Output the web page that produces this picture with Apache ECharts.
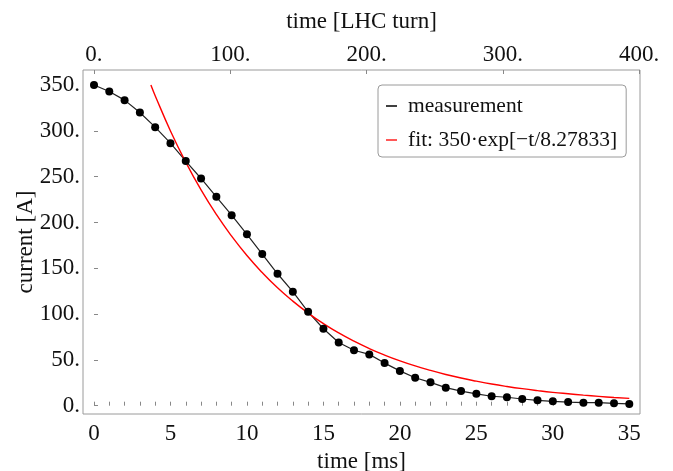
<!DOCTYPE html>
<html>
<head>
<meta charset="utf-8">
<script src="https://cdn.jsdelivr.net/npm/echarts@6/dist/echarts.min.js"></script>
<style>
html,body{margin:0;padding:0;background:#fff;}
#chart{width:673px;height:471px;}
</style>
</head>
<body>
<div id="chart"></div>
<script>
// measurement: time [ms] and current [A]
var timeMs = [0,1,2,3,4,5,6,7,8,9,10,11,12,13,14,15,16,17,18,19,20,21,22,23,24,25,26,27,28,29,30,31,32,33,34,35];
var currentA = [350,343,333.5,320,304,286.5,267,248,228,208,187,165.5,144,124.5,102.5,84,69,60.5,56,46.5,38,30.5,25.5,19.7,16,13,10.3,9.2,7.3,5.9,4.8,4.0,3.3,3.3,2.6,1.9];
// fit curve
var fitTime = [3.72,4,5,6,7,8,9,10,11,12,13,14,15,16,17,18,19,20,21,22,23,24,25,26,27,28,29,30,31,32,33,34,35];
var fitCurrent = [350,338.4,299.9,265.8,235.5,208.7,185.0,163.9,145.3,128.7,114.1,101.1,89.6,79.4,70.4,62.4,55.3,49.0,43.4,38.5,34.1,30.2,26.8,23.7,21.0,18.6,16.5,14.6,13.0,11.5,10.2,9.0,8.0];
// tick labels
var msTicks = [0,1,2,3,4,5,6,7,8,9,10,11,12,13,14,15,16,17,18,19,20,21,22,23,24,25,26,27,28,29,30,31,32,33,34,35];
var msLabels = [0,5,10,15,20,25,30,35];
var turnLabels = [0,100,200,300,400];
var currentLabels = [0,50,100,150,200,250,300,350];

var FONT = 'Liberation Serif';
var TXT = '#111';

function zip(a, b){ return a.map(function(v,i){ return [v, b[i]]; }); }

var chart = echarts.init(document.getElementById('chart'), null, {renderer:'canvas'});
chart.setOption({
  animation: false,
  backgroundColor: '#fff',
  grid: {left: 83, top: 70, width: 557, height: 344, containLabel: false, outerBoundsMode: 'none',
    show: true, borderColor: '#9a9a9a', borderWidth: 1, backgroundColor: 'transparent'},
  legend: {
    left: 378, top: 85, orient: 'vertical',
    data: ['measurement', 'fit: 350·exp[−t/8.27833]'],
    icon: 'rect', itemWidth: 11, itemHeight: 1.5, itemGap: 10,
    padding: [9, 9, 5, 8],
    borderColor: '#9a9a9a', borderWidth: 1, borderRadius: 4,
    textStyle: {fontFamily: FONT, fontSize: 21.5, color: TXT, lineHeight: 24, padding: [0,0,0,6]}
  },
  xAxis: [
    {
      type: 'value', position: 'bottom', min: -0.719, max: 35.70,
      name: 'time [ms]', nameLocation: 'middle', nameGap: 36, nameMoveOverlap: false,
      nameTextStyle: {fontFamily: FONT, fontSize: 23, color: TXT},
      axisLine: {show: false},
      splitLine: {show: false},
      axisTick: {show: true, inside: true, length: 4, lineStyle: {color: '#888'}, customValues: msTicks},
      axisLabel: {fontFamily: FONT, fontSize: 23, color: TXT, margin: 8, customValues: msLabels}
    },
    {
      type: 'value', position: 'top', min: -8.07, max: 400.7,
      name: 'time [LHC turn]', nameLocation: 'middle', nameGap: 37, nameMoveOverlap: false,
      nameTextStyle: {fontFamily: FONT, fontSize: 23, color: TXT},
      axisLine: {show: false},
      splitLine: {show: false},
      axisTick: {show: true, inside: true, length: 4, lineStyle: {color: '#888'}, customValues: turnLabels},
      axisLabel: {fontFamily: FONT, fontSize: 23, color: TXT, margin: 4, customValues: turnLabels,
        formatter: function(v){ return v + '.'; }}
    }
  ],
  yAxis: {
    type: 'value', min: -9.06, max: 366.4,
    name: 'current [A]', nameLocation: 'middle', nameGap: 46, nameMoveOverlap: false,
    nameTextStyle: {fontFamily: FONT, fontSize: 23, color: TXT},
    axisLine: {show: false},
    splitLine: {show: false},
    axisTick: {show: true, inside: true, length: 4, lineStyle: {color: '#888'}, customValues: currentLabels},
    axisLabel: {fontFamily: FONT, fontSize: 23, color: TXT, margin: 3, customValues: currentLabels,
      formatter: function(v){ return v + '.'; }}
  },
  series: [
    {
      name: 'measurement', type: 'line', xAxisIndex: 0,
      data: zip(timeMs, currentA),
      symbol: 'circle', symbolSize: 8, showSymbol: true,
      color: '#333',
      itemStyle: {color: '#000'},
      lineStyle: {color: '#222', width: 1.2}
    },
    {
      name: 'fit: 350·exp[−t/8.27833]', type: 'line', xAxisIndex: 0,
      data: zip(fitTime, fitCurrent),
      showSymbol: false, smooth: true,
      color: '#ff2020',
      lineStyle: {color: '#ff0000', width: 1.4}
    }
  ]
});
</script>
</body>
</html>
